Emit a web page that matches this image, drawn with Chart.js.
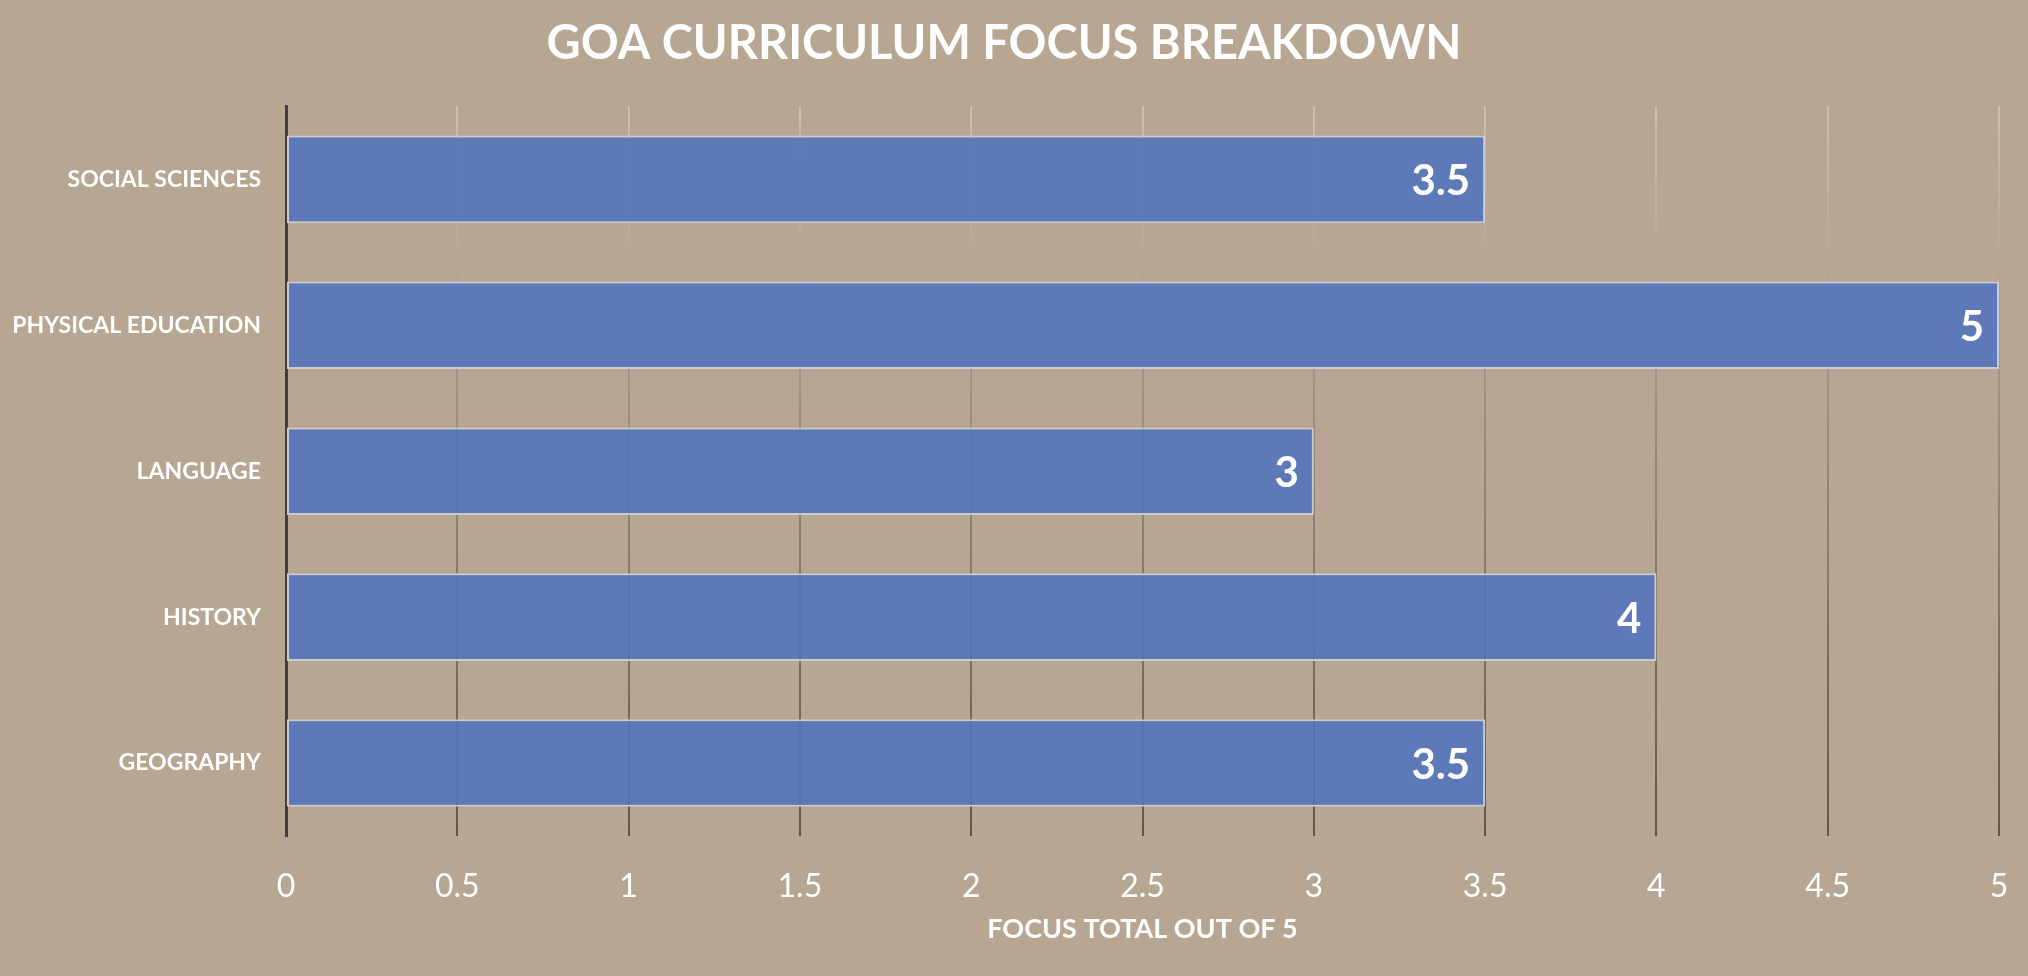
<!DOCTYPE html>
<html>
<head>
<meta charset="utf-8">
<script src="https://cdn.jsdelivr.net/npm/chart.js@4"></script>
<style>
  body { margin: 0; background: #b7a692; }
  #wrap { width: 2028px; height: 976px; }
</style>
</head>
<body>
<div id="wrap"><canvas id="focus-chart"></canvas></div>
<script>
const subjects = ['SOCIAL SCIENCES', 'PHYSICAL EDUCATION', 'LANGUAGE', 'HISTORY', 'GEOGRAPHY'];
const focusScores = [3.5, 5, 3, 4, 3.5];
const chartTitle = 'GOA CURRICULUM FOCUS BREAKDOWN';
const axisTitle = 'FOCUS TOTAL OUT OF 5';

// value labels at the end of each bar (no datalabels plugin offline)
const barValues = {
  id: 'barValues',
  afterDatasetsDraw(chart) {
    const ctx = chart.ctx;
    const meta = chart.getDatasetMeta(0);
    ctx.save();
    ctx.font = 'bold 42px Lato';
    ctx.fillStyle = '#ffffff';
    ctx.textAlign = 'right';
    ctx.textBaseline = 'middle';
    meta.data.forEach((bar, i) => {
      ctx.fillText(String(focusScores[i]), bar.x - 15, bar.y + 2);
    });
    ctx.restore();
  }
};

function gridGradient(context) {
  const chart = context.chart;
  const area = chart.chartArea;
  if (!area) return 'rgba(0,0,0,0)';
  const g = chart.ctx.createLinearGradient(0, area.top, 0, area.bottom);
  g.addColorStop(0, 'rgba(205,195,182,0.9)');
  g.addColorStop(0.45, 'rgba(150,136,120,0.9)');
  g.addColorStop(1, 'rgba(95,82,68,0.95)');
  return g;
}

Chart.defaults.font.family = 'Lato';
Chart.defaults.color = '#ffffff';

function drawChart() {
  new Chart(document.getElementById('focus-chart'), {
    type: 'bar',
    data: {
      labels: subjects,
      datasets: [{
        data: focusScores,
        backgroundColor: 'rgba(83,116,187,0.9)',
        borderColor: '#c9cad2',
        borderWidth: 2,
        borderSkipped: false,
        categoryPercentage: 0.6,
        barPercentage: 1
      }]
    },
    options: {
      indexAxis: 'y',
      responsive: true,
      maintainAspectRatio: false,
      animation: false,
      layout: { padding: { left: 9, right: 29, bottom: 31 } },
      plugins: {
        legend: { display: false },
        tooltip: { enabled: false },
        title: {
          display: true,
          text: chartTitle,
          color: '#ffffff',
          font: { size: 47, weight: 'bold' },
          padding: { top: 16, bottom: 34 }
        }
      },
      scales: {
        x: {
          min: 0,
          max: 5,
          afterFit(scale) { scale.height = 109; },
          ticks: {
            stepSize: 0.5,
            maxRotation: 0,
            padding: 0,
            font: { size: 32 },
            color: '#ffffff',
            callback: (v) => String(Number(v))
          },
          grid: {
            color: gridGradient,
            lineWidth: 2,
            drawTicks: true,
            tickLength: 31,
            tickColor: 'rgba(0,0,0,0)'
          },
          border: { display: false },
          title: {
            display: true,
            text: axisTitle,
            color: '#ffffff',
            font: { size: 27, weight: 'bold' },
            padding: { top: 0, bottom: 0 }
          }
        },
        y: {
          afterFit(scale) { scale.width = 277; },
          grid: { display: false, drawTicks: false },
          border: { display: true, color: '#3f3f3f', width: 3 },
          ticks: { padding: 25, font: { size: 23, weight: 'bold' }, color: '#ffffff' }
        }
      }
    },
    plugins: [barValues]
  });
}

if (document.fonts && document.fonts.load) {
  Promise.all([
    document.fonts.load('bold 23px Lato'),
    document.fonts.load('32px Lato')
  ]).then(drawChart, drawChart);
} else {
  drawChart();
}
</script>
</body>
</html>
